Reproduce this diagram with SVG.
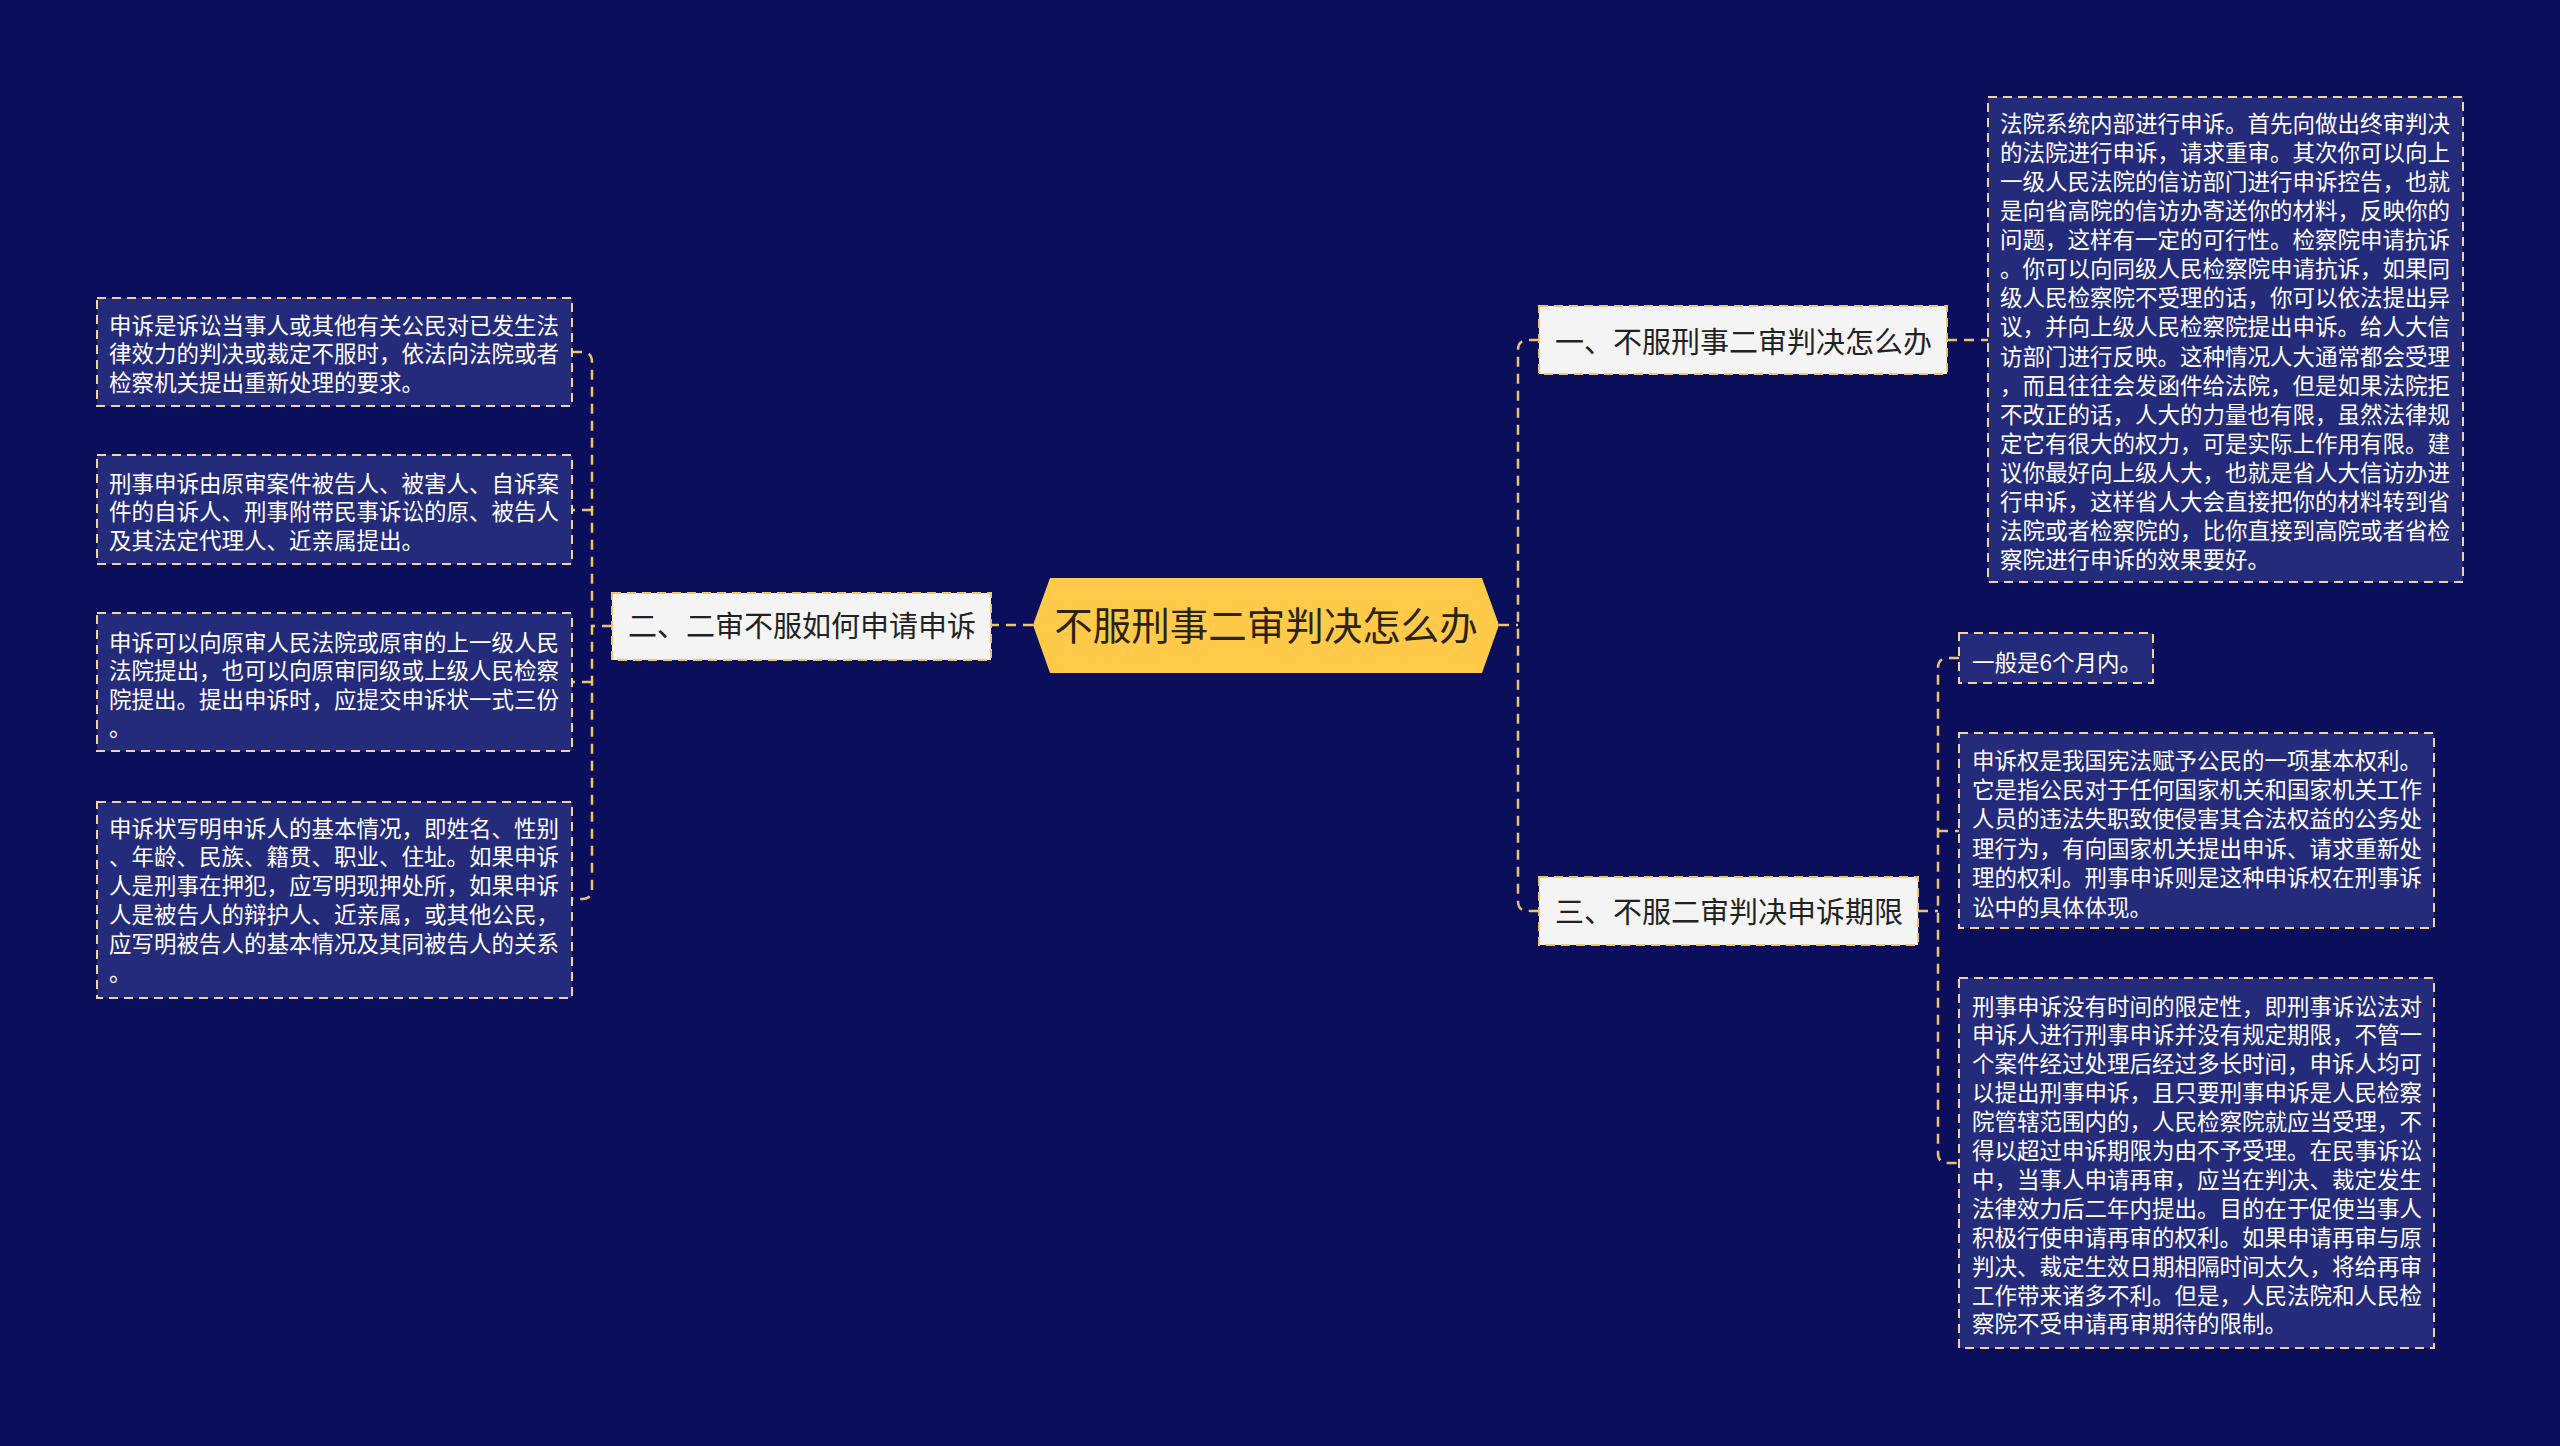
<svg xmlns="http://www.w3.org/2000/svg" width="2560" height="1446" viewBox="0 0 2560 1446">
<style>
.bg{fill:#0B0E5B}
.leaf{fill:#242B7B;stroke:#F2D39A;stroke-width:2;stroke-dasharray:9 6}
.branch{fill:#F4F4F4;stroke:#F2C46A;stroke-width:2;stroke-dasharray:9 6}
.root{fill:#FFC94A}
.lt{font-family:"Noto Sans CJK SC","Noto Sans",sans-serif;font-size:22.5px;fill:#FFFFFF}
.bt{font-family:"Noto Sans CJK SC","Noto Sans",sans-serif;font-size:29px;fill:#222222}
.rt{font-family:"Noto Sans CJK SC","Noto Sans",sans-serif;font-size:38.5px;fill:#2A2410}
.con{fill:none;stroke:#E9C46A;stroke-width:2.5;stroke-dasharray:10 7}
</style>
<rect class="bg" x="0" y="0" width="2560" height="1446"/>
<g id="connectors">
<path class="con" d="M1033 625 H991"/>
<path class="con" d="M1499 625 H1518"/>
<path class="con" d="M1539 340 H1528 Q1518 340 1518 350 V901 Q1518 911 1528 911 H1539"/>
<path class="con" d="M1947 340 H1988"/>
<path class="con" d="M1918 911 H1938"/>
<path class="con" d="M1959 658 H1948 Q1938 658 1938 668 V1153 Q1938 1163 1948 1163 H1959"/>
<path class="con" d="M1938 831 H1959"/>
<path class="con" d="M612 626 H592"/>
<path class="con" d="M572 352 H582 Q592 352 592 362 V889 Q592 899 582 899 H572"/>
<path class="con" d="M592 510 H572"/>
<path class="con" d="M592 682 H572"/>
</g>
<g id="root">
<polygon class="root" points="1033,625 1050,578 1482,578 1499,625 1482,673 1050,673"/>
<text class="rt" x="1266" y="639.5" text-anchor="middle">不服刑事二审判决怎么办</text>
</g>
<g id="node-left">
<rect class="branch" x="612" y="593" width="379" height="67"/>
<text class="bt" x="628" y="637">二、二审不服如何申请申诉</text>
</g>
<g id="node-r1">
<rect class="branch" x="1539" y="306" width="408" height="68"/>
<text class="bt" x="1555" y="352.5">一、不服刑事二审判决怎么办</text>
</g>
<g id="node-r3">
<rect class="branch" x="1539" y="877" width="379" height="68"/>
<text class="bt" x="1555" y="922.5">三、不服二审判决申诉期限</text>
</g>
<g id="leaf-a">
<rect class="leaf" x="1988" y="97" width="475" height="485"/>
<text class="lt" x="2000" y="131.5">
<tspan x="2000" dy="0">法院系统内部进行申诉。首先向做出终审判决</tspan>
<tspan x="2000" dy="29.13">的法院进行申诉，请求重审。其次你可以向上</tspan>
<tspan x="2000" dy="29.13">一级人民法院的信访部门进行申诉控告，也就</tspan>
<tspan x="2000" dy="29.13">是向省高院的信访办寄送你的材料，反映你的</tspan>
<tspan x="2000" dy="29.13">问题，这样有一定的可行性。检察院申请抗诉</tspan>
<tspan x="2000" dy="29.13">。你可以向同级人民检察院申请抗诉，如果同</tspan>
<tspan x="2000" dy="29.13">级人民检察院不受理的话，你可以依法提出异</tspan>
<tspan x="2000" dy="29.13">议，并向上级人民检察院提出申诉。给人大信</tspan>
<tspan x="2000" dy="29.13">访部门进行反映。这种情况人大通常都会受理</tspan>
<tspan x="2000" dy="29.13">，而且往往会发函件给法院，但是如果法院拒</tspan>
<tspan x="2000" dy="29.13">不改正的话，人大的力量也有限，虽然法律规</tspan>
<tspan x="2000" dy="29.13">定它有很大的权力，可是实际上作用有限。建</tspan>
<tspan x="2000" dy="29.13">议你最好向上级人大，也就是省人大信访办进</tspan>
<tspan x="2000" dy="29.13">行申诉，这样省人大会直接把你的材料转到省</tspan>
<tspan x="2000" dy="29.13">法院或者检察院的，比你直接到高院或者省检</tspan>
<tspan x="2000" dy="29.13">察院进行申诉的效果要好。</tspan>
</text>
</g>
<g id="leaf-b">
<rect class="leaf" x="1959" y="633" width="194" height="50"/>
<text class="lt" x="1972" y="670.5">一般是6个月内。</text>
</g>
<g id="leaf-c">
<rect class="leaf" x="1959" y="733" width="475" height="195"/>
<text class="lt" x="1972" y="768.5">
<tspan x="1972" dy="0">申诉权是我国宪法赋予公民的一项基本权利。</tspan>
<tspan x="1972" dy="29.4">它是指公民对于任何国家机关和国家机关工作</tspan>
<tspan x="1972" dy="29.4">人员的违法失职致使侵害其合法权益的公务处</tspan>
<tspan x="1972" dy="29.4">理行为，有向国家机关提出申诉、请求重新处</tspan>
<tspan x="1972" dy="29.4">理的权利。刑事申诉则是这种申诉权在刑事诉</tspan>
<tspan x="1972" dy="29.4">讼中的具体体现。</tspan>
</text>
</g>
<g id="leaf-d">
<rect class="leaf" x="1959" y="978" width="475" height="370"/>
<text class="lt" x="1972" y="1014.5">
<tspan x="1972" dy="0">刑事申诉没有时间的限定性，即刑事诉讼法对</tspan>
<tspan x="1972" dy="28.9">申诉人进行刑事申诉并没有规定期限，不管一</tspan>
<tspan x="1972" dy="28.9">个案件经过处理后经过多长时间，申诉人均可</tspan>
<tspan x="1972" dy="28.9">以提出刑事申诉，且只要刑事申诉是人民检察</tspan>
<tspan x="1972" dy="28.9">院管辖范围内的，人民检察院就应当受理，不</tspan>
<tspan x="1972" dy="28.9">得以超过申诉期限为由不予受理。在民事诉讼</tspan>
<tspan x="1972" dy="28.9">中，当事人申请再审，应当在判决、裁定发生</tspan>
<tspan x="1972" dy="28.9">法律效力后二年内提出。目的在于促使当事人</tspan>
<tspan x="1972" dy="28.9">积极行使申请再审的权利。如果申请再审与原</tspan>
<tspan x="1972" dy="28.9">判决、裁定生效日期相隔时间太久，将给再审</tspan>
<tspan x="1972" dy="28.9">工作带来诸多不利。但是，人民法院和人民检</tspan>
<tspan x="1972" dy="28.9">察院不受申请再审期待的限制。</tspan>
</text>
</g>
<g id="leaf-l1">
<rect class="leaf" x="97" y="298" width="475" height="108"/>
<text class="lt" x="109" y="333.5">
<tspan x="109" dy="0">申诉是诉讼当事人或其他有关公民对已发生法</tspan>
<tspan x="109" dy="28.5">律效力的判决或裁定不服时，依法向法院或者</tspan>
<tspan x="109" dy="28.5">检察机关提出重新处理的要求。</tspan>
</text>
</g>
<g id="leaf-l2">
<rect class="leaf" x="97" y="455" width="475" height="109"/>
<text class="lt" x="109" y="491.5">
<tspan x="109" dy="0">刑事申诉由原审案件被告人、被害人、自诉案</tspan>
<tspan x="109" dy="28.5">件的自诉人、刑事附带民事诉讼的原、被告人</tspan>
<tspan x="109" dy="28.5">及其法定代理人、近亲属提出。</tspan>
</text>
</g>
<g id="leaf-l3">
<rect class="leaf" x="97" y="613" width="475" height="138"/>
<text class="lt" x="109" y="650.5">
<tspan x="109" dy="0">申诉可以向原审人民法院或原审的上一级人民</tspan>
<tspan x="109" dy="28.5">法院提出，也可以向原审同级或上级人民检察</tspan>
<tspan x="109" dy="28.5">院提出。提出申诉时，应提交申诉状一式三份</tspan>
<tspan x="109" dy="28.5">。</tspan>
</text>
</g>
<g id="leaf-l4">
<rect class="leaf" x="97" y="802" width="475" height="196"/>
<text class="lt" x="109" y="836.5">
<tspan x="109" dy="0">申诉状写明申诉人的基本情况，即姓名、性别</tspan>
<tspan x="109" dy="28.8">、年龄、民族、籍贯、职业、住址。如果申诉</tspan>
<tspan x="109" dy="28.8">人是刑事在押犯，应写明现押处所，如果申诉</tspan>
<tspan x="109" dy="28.8">人是被告人的辩护人、近亲属，或其他公民，</tspan>
<tspan x="109" dy="28.8">应写明被告人的基本情况及其同被告人的关系</tspan>
<tspan x="109" dy="28.8">。</tspan>
</text>
</g>
</svg>
